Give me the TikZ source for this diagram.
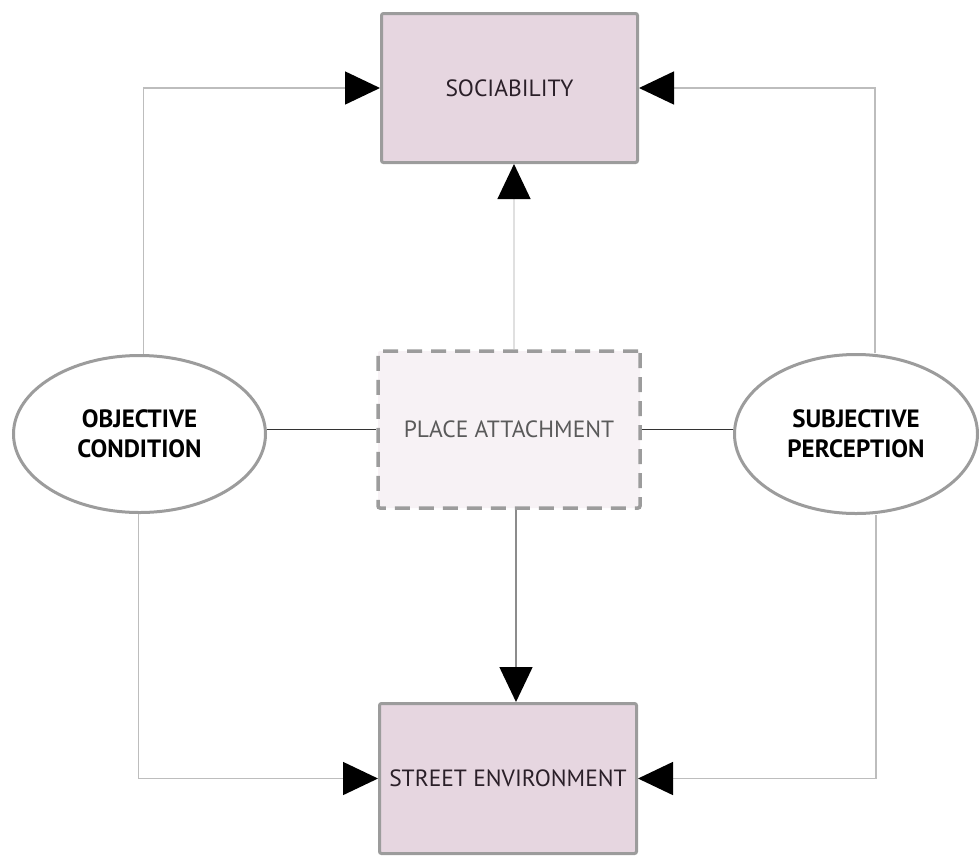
\documentclass[tikz,border=0pt]{standalone}
\usepackage{fontspec}
\setmainfont{PT Sans}
\usetikzlibrary{arrows.meta,shapes.geometric}
\definecolor{boxfill}{HTML}{E6D6E0}
\definecolor{placefill}{HTML}{F7F2F5}
\definecolor{edgegray}{HTML}{9C9C9C}
\definecolor{linegray}{HTML}{BDBDBD}
\definecolor{textdark}{HTML}{2A1F28}
\definecolor{placetext}{HTML}{5A5A5A}
\tikzset{
  mainbox/.style={draw=edgegray, line width=3pt, fill=boxfill, rounded corners=2pt,
    inner sep=0pt, text=textdark, font=\fontsize{23.5}{28}\selectfont},
  placebox/.style={draw=edgegray, line width=3.5pt, fill=placefill, rounded corners=2pt,
    dash pattern=on 15pt off 9pt, inner sep=0pt, text=placetext, font=\fontsize{23.5}{28}\selectfont},
  ellnode/.style={ellipse, draw=edgegray, line width=3pt, fill=white, inner sep=0pt,
    align=center, font=\bfseries\fontsize{25}{30}\selectfont, text=black},
  conn/.style={draw=linegray, line width=1.5pt},
  darkconn/.style={draw=black!80, line width=1.5pt},
  tri/.style={-{Triangle[length=35pt,width=33pt,color=black]}},
}
\begin{document}
\begin{tikzpicture}[x=1pt,y=-1pt]
\useasboundingbox (0,0) rectangle (979,857);
\node[mainbox, minimum width=256pt, minimum height=149pt] (soc) at (509.5,88) {SOCIABILITY};
\node[mainbox, minimum width=257pt, minimum height=150pt] (street) at (508,778.5) {STREET ENVIRONMENT};
\node[placebox, minimum width=262pt, minimum height=157pt] (place) at (509,429.5) {PLACE ATTACHMENT};
\node[ellnode, minimum width=252pt, minimum height=157pt] (obj) at (139.5,434) {OBJECTIVE\\CONDITION};
\node[ellnode, minimum width=243pt, minimum height=159pt] (subj) at (856,434) {SUBJECTIVE\\PERCEPTION};

\draw[conn, tri] ([xshift=4pt]obj.north) |- (soc.west);
\draw[conn, tri] ([xshift=19pt]subj.north) |- (soc.east);
\draw[conn, tri] ([xshift=-1pt]obj.south) |- (street.west);
\draw[conn, tri] ([xshift=20pt]subj.south) |- (street.east);
\draw[draw=black!12, line width=1.2pt, tri] ([xshift=5pt]place.north) -- ([xshift=5pt]place.north |- soc.south);
\draw[draw=black!45, line width=1.5pt, tri] ([xshift=7pt]place.south) -- ([xshift=7pt]place.south |- street.north);
\draw[darkconn] (place.west -| obj.east) -- (place.west);
\draw[darkconn] (place.east) -- (place.east -| subj.west);
\end{tikzpicture}
\end{document}
